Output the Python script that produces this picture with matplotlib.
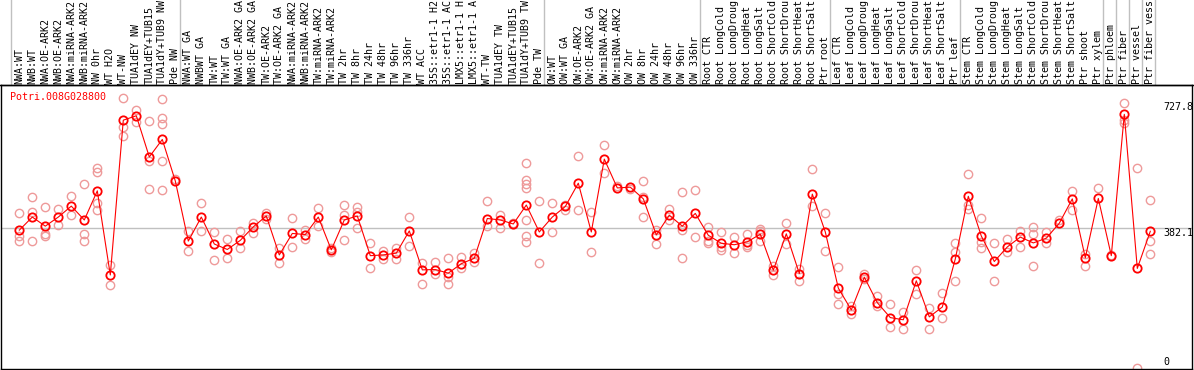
import matplotlib
matplotlib.use("Agg")
import matplotlib.pyplot as plt
from matplotlib.transforms import blended_transform_factory
from matplotlib.lines import Line2D

gene = "Potri.008G028800"

labels = [
    "NWA:WT", "NWB:WT", "NWA:OE-ARK2", "NWB:OE-ARK2", "NWA:miRNA-ARK2", "NWB:miRNA-ARK2",
    "NW 0hr", "WT H2O", "WT-NW", "TUA1dEY NW", "TUA1dEY+TUB15", "TUA1dY+TUB9 NW", "Pde NW",
    "NWA:WT GA", "NWBWT GA", "TW:WT", "TW:WT GA", "NWA:OE-ARK2 GA", "NWB:OE-ARK2 GA",
    "TW:OE-ARK2", "TW:OE-ARK2 GA", "NWA:miRNA-ARK2", "NWB:miRNA-ARK2", "TW:miRNA-ARK2",
    "TW:miRNA-ARK2", "TW 2hr", "TW 8hr", "TW 24hr", "TW 48hr", "TW 96hr", "TW 336hr",
    "WT ACC", "35S::etr1-1 H2", "35S::etr1-1 AC", "LMX5::etr1-1 H", "LMX5::etr1-1 A",
    "WT-TW", "TUA1dEY TW", "TUA1dEY+TUB15", "TUA1dY+TUB9 TW", "Pde TW",
    "OW:WT", "OW:WT GA", "OW:OE-ARK2", "OW:OE-ARK2 GA", "OW:miRNA-ARK2", "OW:miRNA-ARK2",
    "OW 2hr", "OW 8hr", "OW 24hr", "OW 48hr", "OW 96hr", "OW 336hr",
    "Root CTR", "Root LongCold", "Root LongDroug", "Root LongHeat", "Root LongSalt",
    "Root ShortCold", "Root ShortDrou", "Root ShortHeat", "Root ShortSalt", "Ptr root",
    "Leaf CTR", "Leaf LongCold", "Leaf LongDroug", "Leaf LongHeat", "Leaf LongSalt",
    "Leaf ShortCold", "Leaf ShortDrou", "Leaf ShortHeat", "Leaf ShortSalt", "Ptr leaf",
    "Stem CTR", "Stem LongCold", "Stem LongDroug", "Stem LongHeat", "Stem LongSalt",
    "Stem ShortCold", "Stem ShortDrou", "Stem ShortHeat", "Stem ShortSalt", "Ptr shoot",
    "Ptr xylem", "Ptr phloem", "Ptr fiber", "Ptr vessel", "Ptr fiber vess",
]

# index of first sample in each group, plus the end
group_starts = [0, 13, 41, 53, 63, 73, 84, 85, 86, 87, 88]

means = [
    377, 413, 388, 413, 443, 405, 485, 254, 679, 691, 578, 626, 512,
    347, 413, 339, 324, 349, 386, 416, 309, 368, 365, 413, 323, 405, 416,
    307, 309, 314, 375, 268, 269, 259, 285, 300, 409, 405, 394, 446, 372,
    413, 442, 506, 372, 572, 493, 495, 463, 364, 418, 388, 423,
    363, 341, 337, 345, 366, 267, 367, 258, 476, 372,
    218, 158, 248, 178, 137, 131, 238, 139, 166, 298,
    470, 361, 291, 331, 358, 342, 355, 396, 463, 301, 464,
    307, 695, 272, 374,
]

reps = [
    [423, 362, 347], [468, 428, 347], [441, 366, 361], [435, 391], [471, 418],
    [504, 366, 347], [549, 537, 451, 432], [281, 226], [739, 659, 635], [707, 673],
    [676, 568, 490], [737, 686, 668, 567, 487], [517],
    [374, 319], [452, 375], [373, 294], [353, 301], [376, 328], [398, 370],
    [423, 407], [328, 287], [410, 331], [377, 354], [438, 388], [316, 328],
    [446, 418, 350], [441, 428, 383], [341, 273], [320, 297], [329, 298],
    [413, 333], [288, 229], [290, 257], [301, 249, 229], [303, 274], [315, 289],
    [457, 388], [418, 383], [396], [561, 514, 504, 492, 405, 362, 344], [457, 287],
    [452, 371], [446, 431], [581, 432], [427, 316], [611, 533], [498], [489],
    [512, 469, 412], [377, 339], [434, 405], [482, 377, 301], [487, 358],
    [387, 348, 343], [371, 330, 323], [359, 313], [366, 335, 332], [379, 374, 348],
    [280, 253], [396, 338], [271, 238], [545, 442], [423, 319],
    [276, 201, 174], [169, 148], [258, 243], [197, 169], [175, 111], [151, 106],
    [269, 202], [162, 106], [205, 135], [341, 316, 237],
    [531, 446, 434], [410, 344, 327], [342, 237], [353, 316], [375, 330],
    [386, 366, 279], [372, 341], [405], [485, 432], [311, 280], [492],
    [309], [725, 679, 672], [549, 0], [460, 346, 311],
]

ref_value = 382.1
max_label = 727.8

W, H = 1194, 370
fig = plt.figure(figsize=(W / 100, H / 100), dpi=100)
ax = fig.add_axes([1 / W, 1 - 369 / H, 1191 / W, 284 / H])

n = len(means)
xs = list(range(n))
ax.set_xlim((1 - 19.3) / 13, (1192 - 19.3) / 13)
ax.set_ylim(-4.1, 775.5)

mono = "DejaVu Sans Mono"
fs = 7.2
grid_c = "#c0c0c0"

# horizontal reference line
ax.axhline(ref_value, color=grid_c, lw=1, zorder=1)

# vertical group separators spanning header and plot
tr = blended_transform_factory(ax.transData, fig.transFigure)
for g in group_starts:
    fig.add_artist(Line2D([g - 0.64, g - 0.64], [0, 1], transform=tr,
                          color=grid_c, lw=1, zorder=0))

# replicate points
rx, ry = [], []
for i, r in enumerate(reps):
    for v in r:
        rx.append(i)
        ry.append(v)
ax.plot(rx, ry, linestyle="none", marker="o", markersize=6.0,
        markerfacecolor="none", markeredgecolor="#ee9a9a", markeredgewidth=1.0,
        zorder=2, clip_on=True)

# mean line and points
ax.plot(xs, means, color="#ff0000", lw=0.8, zorder=3)
ax.plot(xs, means, linestyle="none", marker="o", markersize=6.0,
        markerfacecolor="none", markeredgecolor="#ff0000", markeredgewidth=1.3,
        zorder=4)

# header labels
for i, lab in enumerate(labels):
    fig.text(i, 1 - 83.5 / H, lab, transform=tr, rotation=90, ha="center",
             va="bottom", family=mono, fontsize=fs, color="black")

# gene name
fig.text(10 / W, 1 - 96.5 / H, gene, family=mono, fontsize=fs, color="#ff0000",
         ha="left", va="center")

# right-hand value labels
ty = blended_transform_factory(fig.transFigure, ax.transData)
fig.text(1163 / W, max_label, f"{max_label}", transform=ty, family=mono,
         fontsize=fs, ha="left", va="top")
fig.text(1163 / W, ref_value, f"{ref_value}", transform=ty, family=mono,
         fontsize=fs, ha="left", va="top")
fig.text(1163 / W, 1 - 362.3 / H, "0", family=mono, fontsize=fs,
         ha="left", va="center")

for s in ax.spines.values():
    s.set_color("black")
    s.set_linewidth(1.0)
ax.set_xticks([])
ax.set_yticks([])
# top header line across full width
fig.add_artist(Line2D([0, 1], [1 - 85 / H, 1 - 85 / H], transform=fig.transFigure,
                      color="black", lw=1.0))

fig.savefig("out.png", dpi=100, facecolor="white")
